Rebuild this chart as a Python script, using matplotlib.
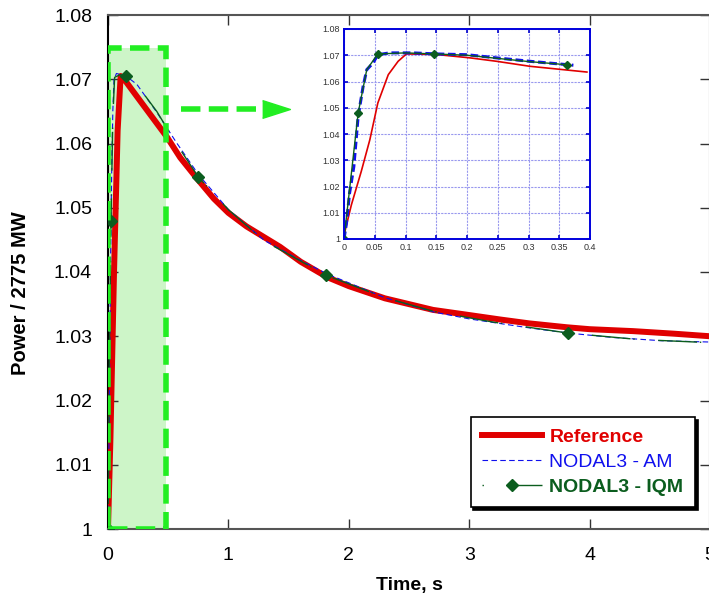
import matplotlib
matplotlib.use("Agg")
import matplotlib.pyplot as plt
from matplotlib.patches import Rectangle
from matplotlib.ticker import FuncFormatter, MultipleLocator

plt.rcParams['font.family'] = ['Liberation Sans', 'DejaVu Sans']

# ---- main plot data (time in s, power normalised to 2775 MW) ----
t_ref = [0, 0.02, 0.05, 0.08, 0.105, 0.15, 0.3, 0.49, 0.6, 0.75, 0.88, 1.0, 1.15,
         1.43, 1.6, 1.82, 2.0, 2.3, 2.7, 3.0, 3.26, 3.5, 3.81, 4.0, 4.36, 4.7, 5.0]
p_ref = [1.0, 1.014, 1.040, 1.062, 1.0705, 1.0696, 1.0658, 1.0610, 1.0578, 1.0543,
         1.0514, 1.0492, 1.0471, 1.0439, 1.0416, 1.0392, 1.0378, 1.0359, 1.0341,
         1.0333, 1.0326, 1.0320, 1.0314, 1.0311, 1.0308, 1.0304, 1.0300]

t_am = [0, 0.01, 0.02, 0.03, 0.04, 0.05, 0.07, 0.15, 0.24, 0.4, 0.57, 0.75, 1.0,
        1.3, 1.6, 1.82, 2.3, 2.7, 3.0, 3.5, 3.82, 4.2, 4.6, 5.0]
p_am = [1.0, 1.017, 1.040, 1.055, 1.065, 1.070, 1.0709, 1.0705, 1.0692, 1.0650,
        1.0601, 1.0552, 1.0497, 1.0449, 1.0418, 1.0397, 1.0360, 1.0338, 1.0327,
        1.0313, 1.0305, 1.0298, 1.0293, 1.0291]

t_iqm = [0, 0.01, 0.025, 0.04, 0.055, 0.1, 0.15, 0.238, 0.405, 0.57, 0.75, 1.0,
         1.3, 1.6, 1.81, 2.3, 2.7, 3.2, 3.82, 4.4, 5.0]
p_iqm = [1.0, 1.025, 1.048, 1.064, 1.0703, 1.0707, 1.0705, 1.0692, 1.0650, 1.0599,
         1.0548, 1.0497, 1.0448, 1.0417, 1.0395, 1.0360, 1.0339, 1.0322, 1.0305,
         1.0295, 1.0290]
iqm_marks = [0, 2, 6, 10, 14, 18]

# ---- inset (zoom on first 0.4 s) ----
ti_ref = [0, 0.002, 0.012, 0.028, 0.042, 0.055, 0.072, 0.088, 0.1015, 0.15, 0.205,
          0.248, 0.302, 0.395]
pi_ref = [1.0, 1.0034, 1.013, 1.0257, 1.0378, 1.0518, 1.0626, 1.0677, 1.0705,
          1.0703, 1.069, 1.0677, 1.0658, 1.0636]
ti_am = [0, 0.004, 0.009, 0.016, 0.023, 0.031, 0.037, 0.047, 0.055, 0.074, 0.112,
         0.15, 0.2, 0.248, 0.302, 0.373]
pi_am = [1.0, 1.006, 1.0174, 1.0276, 1.0467, 1.058, 1.0645, 1.067, 1.0702, 1.0709,
         1.0709, 1.0705, 1.0702, 1.069, 1.0677, 1.0662]
ti_iqm = [0, 0.023, 0.037, 0.055, 0.1, 0.147, 0.2, 0.25, 0.3, 0.362]
pi_iqm = [1.0, 1.048, 1.0645, 1.0705, 1.0709, 1.0705, 1.0700, 1.0688, 1.0676, 1.0664]
iqm_marks_in = [0, 1, 3, 5, 9]

# zoom box and arrow (data coords)
zoom_t = (0.0, 0.48)
zoom_p = (1.0, 1.0749)
arrow_t = (0.607, 1.27)
arrow_head_t = 1.395
arrow_p = 1.0654

RED = '#e00000'
BLUE = '#1010ee'
GREEN = '#0b5d1e'
LIME = '#22ee22'

fig = plt.figure(figsize=(7.09, 5.97), dpi=100)
ax = fig.add_axes([108 / 709, 68 / 597, 602 / 709, 514 / 597])

ax.add_patch(Rectangle((zoom_t[0], zoom_p[0]), zoom_t[1] - zoom_t[0], zoom_p[1] - zoom_p[0],
                       facecolor='#cdf5c8', edgecolor='none', zorder=1))
ax.add_patch(Rectangle((zoom_t[0], zoom_p[0]), zoom_t[1] - zoom_t[0], zoom_p[1] - zoom_p[0],
                       facecolor='none', edgecolor=LIME, lw=4, ls=(0, (3.5, 1.5)), zorder=4))
ax.plot(arrow_t, [arrow_p, arrow_p], color=LIME, lw=4, ls=(0, (3.5, 1.5)), zorder=4)
ax.plot([arrow_head_t], [arrow_p], marker=[(-1, -0.64), (1, 0), (-1, 0.64)], ms=20,
        color=LIME, mec=LIME, zorder=4)

ax.plot(t_ref, p_ref, color=RED, lw=4.3, label='Reference', zorder=3)
ax.plot(t_am, p_am, color=BLUE, lw=0.8, ls=(0, (5, 3)), label='NODAL3 - AM', zorder=3)
ax.plot(t_iqm, p_iqm, color=GREEN, lw=1.0, ls=(0, (1, 17, 28, 2)), marker='D', ms=6,
        markevery=iqm_marks, label='NODAL3 - IQM', zorder=3)

ax.set_xlim(0, 5)
ax.set_ylim(1.0, 1.08)
ax.xaxis.set_major_locator(MultipleLocator(1))
ax.yaxis.set_major_locator(MultipleLocator(0.01))
ax.yaxis.set_major_formatter(FuncFormatter(lambda v, p: '%g' % round(v, 2)))
ax.tick_params(direction='in', length=7.5, width=1, top=True, right=True,
               labelsize=14, pad=11.5, color='#333333')
ax.tick_params(axis='x', pad=13)
for s in ax.spines.values():
    s.set_color('#555555')
    s.set_linewidth(1.5)
ax.spines['left'].set_color('black')
ax.set_xlabel('Time, s', fontsize=14, fontweight='bold', labelpad=9)
ax.set_ylabel('Power / 2775 MW', fontsize=14.5, fontweight='bold')
ax.yaxis.set_label_coords(-0.129, 0.459)

leg = ax.legend(loc='lower right', bbox_to_anchor=(0.975, 0.042), fontsize=14,
                handlelength=3.1, fancybox=False, edgecolor='black', framealpha=1,
                shadow={'color': 'black', 'alpha': 1}, borderpad=0.6,
                labelspacing=0.37, handletextpad=0.35, borderaxespad=0)
leg.get_frame().set_linewidth(1.2)
for txt, c, w in zip(leg.get_texts(), [RED, BLUE, GREEN], ['bold', 'normal', 'bold']):
    txt.set_color(c)
    txt.set_fontweight(w)

# inset
ins = fig.add_axes([344 / 709, 358 / 597, 246 / 709, 210 / 597])
ins.plot(ti_ref, pi_ref, color=RED, lw=1.2)
ins.plot(ti_am, pi_am, color=BLUE, lw=2.2, ls=(0, (2.5, 1.2)))
ins.plot(ti_iqm, pi_iqm, color=GREEN, lw=1.0, marker='D', ms=4, markevery=iqm_marks_in)
ins.set_xlim(0, 0.4)
ins.set_ylim(1.0, 1.08)
ins.xaxis.set_major_locator(MultipleLocator(0.05))
ins.yaxis.set_major_locator(MultipleLocator(0.01))
ins.xaxis.set_major_formatter(FuncFormatter(lambda v, p: '%g' % round(v, 2)))
ins.yaxis.set_major_formatter(FuncFormatter(lambda v, p: '%g' % round(v, 2)))
ins.grid(True, color='#9999ee', lw=0.8, ls=(0, (2, 1)))
ins.tick_params(direction='in', length=3, width=1.2, top=True, right=True,
                labelsize=6.5, colors='#0000cc', labelcolor='#333333', pad=3)
for s in ins.spines.values():
    s.set_color('#0000dd')
    s.set_linewidth(1.4)

fig.savefig('out.png', dpi=100)
